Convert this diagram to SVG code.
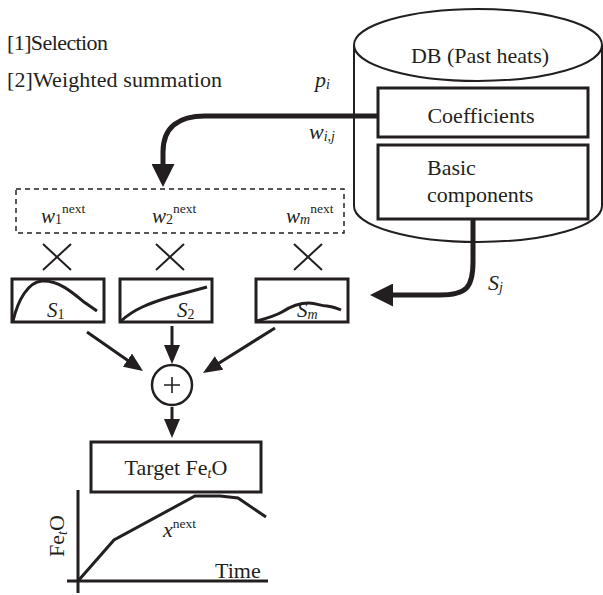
<svg xmlns="http://www.w3.org/2000/svg" width="603" height="595" viewBox="0 0 603 595">
<style>
text{font-family:"Liberation Serif","Times New Roman",serif;fill:#231f20;}
.lbl{font-size:22px;}
.it{font-style:italic;}
.sup{font-size:13.5px;font-style:normal;}
.sub{font-size:14px;}
.box{fill:#fff;stroke:#231f20;stroke-width:3;}
.thin{fill:none;stroke:#231f20;stroke-width:2;}
.arr{fill:none;stroke:#231f20;stroke-width:3;}
.thick{fill:none;stroke:#231f20;stroke-width:5;}
</style>
<defs>
<marker id="ah" markerUnits="userSpaceOnUse" markerWidth="19" markerHeight="16" refX="15" refY="8" orient="auto">
<path d="M0,0 L19,8 L0,16 z" fill="#231f20"/>
</marker>
<marker id="ahb" markerUnits="userSpaceOnUse" markerWidth="23" markerHeight="23" refX="17" refY="11.5" orient="auto">
<path d="M0,0 L23,11.5 L0,23 z" fill="#231f20"/>
</marker>
</defs>
<rect width="603" height="595" fill="#fff"/>

<g id="legend">
<text class="lbl" x="7" y="50" textLength="101">[1]Selection</text>
<text class="lbl" x="7" y="87" textLength="215">[2]Weighted summation</text>
</g>

<g id="db">
<path d="M354,45 V206 A124,36 0 0 0 602,206 V45" fill="#fff" stroke="#231f20" stroke-width="2"/>
<ellipse cx="478" cy="45" rx="124" ry="36" fill="#fff" stroke="#231f20" stroke-width="2"/>
<text class="lbl" x="480" y="63" text-anchor="middle">DB (Past heats)</text>
</g>
<g id="coefficients">
<rect class="box" x="378" y="88" width="210" height="49"/>
<text class="lbl" x="481" y="123" text-anchor="middle">Coefficients</text>
</g>
<g id="basic-components">
<rect class="box" x="378" y="145" width="210" height="74"/>
<text class="lbl" x="427" y="175">Basic</text>
<text class="lbl" x="427" y="202">components</text>
</g>

<g id="weights">
<rect x="16" y="189" width="328" height="44" fill="none" stroke="#231f20" stroke-width="1.5" stroke-dasharray="5,4"/>
<text x="41" y="223"><tspan class="it" font-size="21px">w</tspan><tspan class="sub" dy="1">1</tspan><tspan class="sup" dy="-11">next</tspan></text>
<text x="152" y="223"><tspan class="it" font-size="21px">w</tspan><tspan class="sub" dy="1">2</tspan><tspan class="sup" dy="-11">next</tspan></text>
<text x="286" y="223"><tspan class="it" font-size="21px">w</tspan><tspan class="sub it" dy="1">m</tspan><tspan class="sup" dy="-11">next</tspan></text>
</g>

<g id="times">
<path class="thin" d="M43,244 L71,270 M71,244 L43,270"/>
<path class="thin" d="M156,244 L184,270 M184,244 L156,270"/>
<path class="thin" d="M294,244 L322,270 M322,244 L294,270"/>
</g>

<g id="s1">
<rect class="box" x="12" y="279" width="92" height="43"/>
<path class="arr" stroke-width="2.5" d="M13,321 C18,300 28,282 42,281 C58,280 72,292 84,302 L97,311"/>
<text x="47" y="317"><tspan class="it" font-size="21px">S</tspan><tspan class="sub" dy="2">1</tspan></text>
</g>
<g id="s2">
<rect class="box" x="120" y="279" width="92" height="43"/>
<path class="arr" stroke-width="2.5" d="M121,321 C134,309 150,303 170,297 L207,287"/>
<text x="177" y="317"><tspan class="it" font-size="21px">S</tspan><tspan class="sub" dy="2">2</tspan></text>
</g>
<g id="sm">
<rect class="box" x="256" y="279" width="92" height="43"/>
<path class="arr" stroke-width="2.5" d="M257,321 C268,318 275,316 282,312 C291,306 300,303 309,303 C317,303 320,306 327,306 C333,307 337,308 341,310"/>
<text x="297" y="317"><tspan class="it" font-size="21px">S</tspan><tspan class="sub it" dy="2">m</tspan></text>
</g>

<g id="sum">
<circle cx="172" cy="385" r="20" fill="#fff" stroke="#231f20" stroke-width="2.5"/>
<path d="M164,385 H180 M172,377 V393" stroke="#231f20" stroke-width="1.6"/>
</g>

<g id="target">
<rect class="box" x="91" y="442" width="170" height="50" stroke-width="2.5"/>
<text class="lbl" x="176" y="475" text-anchor="middle">Target Fe<tspan class="it sub" dy="3">t</tspan><tspan dy="-3">O</tspan></text>
</g>

<g id="chart">
<path class="arr" stroke-width="2.5" d="M78,490 V593 M67,581 H268"/>
<polyline class="arr" stroke-width="2.5" points="78,581 114,540 195,496 220,496 238,498 266,517"/>
<text x="163" y="537"><tspan class="it" font-size="22px">x</tspan><tspan class="sup" dy="-9">next</tspan></text>
<text class="lbl" x="215" y="578">Time</text>
<text class="lbl" transform="translate(64,536) rotate(-90)" text-anchor="middle">Fe<tspan class="it sub" dy="3">t</tspan><tspan dy="-3">O</tspan></text>
</g>

<g id="connectors">
<path class="thick" d="M378,116 H205 C180,116 163,126 163,152 V181" marker-end="url(#ahb)"/>
<path class="thick" d="M473,219 V262 C473,288 466,295 440,295 H376" marker-end="url(#ahb)"/>
<path class="arr" d="M87,332 L139.7,368.7" marker-end="url(#ah)"/>
<path class="arr" d="M172,326 V360" marker-end="url(#ah)"/>
<path class="arr" d="M275,328 L206.4,370.9" marker-end="url(#ah)"/>
<path class="arr" d="M172,407 V434" marker-end="url(#ah)"/>
<text class="it" font-size="22px" x="315" y="87">p<tspan class="sub" dy="2">i</tspan></text>
<text class="it" font-size="22px" x="309" y="139">w<tspan class="sub" dy="2">i,j</tspan></text>
<text class="it" font-size="22px" x="488" y="290">S<tspan class="sub" dy="2">j</tspan></text>
</g>
</svg>
